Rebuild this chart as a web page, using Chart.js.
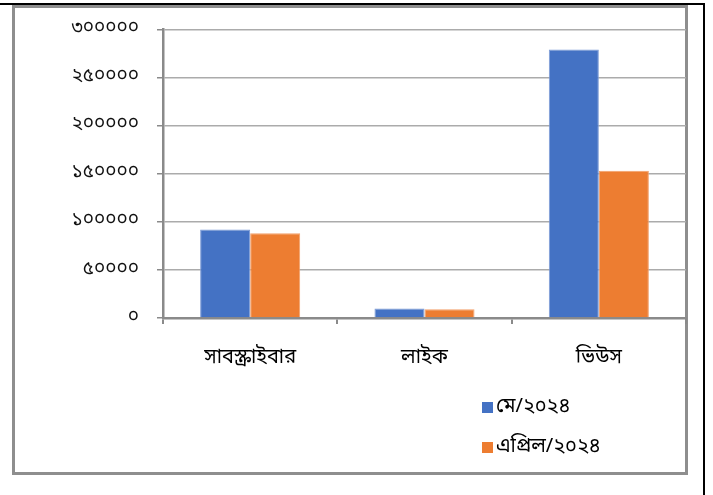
<!DOCTYPE html>
<html>
<head>
<meta charset="utf-8">
<script src="https://cdn.jsdelivr.net/npm/chart.js@4.4.1/dist/chart.umd.min.js"></script>
<style>
  html, body { margin: 0; padding: 0; background: #ffffff; width: 713px; height: 495px; overflow: hidden; }
  #outer { position: absolute; left: 0; top: 3px; width: 703px; height: 500px; border-top: 2px solid #000; border-right: 2px solid #000; }
  #box { position: absolute; left: 12px; top: 5px; width: 670px; height: 464px; border: 3px solid #8e8e8e; background: #fff; }
  #wrap { position: absolute; left: 0; top: 0; width: 713px; height: 495px; }
</style>
</head>
<body>
<div id="outer"></div>
<div id="box"></div>
<div id="wrap"><canvas id="c" width="713" height="495"></canvas></div>
<script>
const categories = ['সাবস্ক্রাইবার', 'লাইক', 'ভিউস'];
const seriesNames = ['মে/২০২৪', 'এপ্রিল/২০২৪'];
const mayValues = [92000, 10000, 279000];
const aprilValues = [88000, 9000, 153000];
const yTickValues = [0, 50000, 100000, 150000, 200000, 250000, 300000];
const yTickLabels = ['০', '৫০০০০', '১০০০০০', '১৫০০০০', '২০০০০০', '২৫০০০০', '৩০০০০০'];

const FONT = "'Noto Sans Bengali', 'Vrinda', 'Lohit Bengali', 'Noto Sans', sans-serif";

const legendPlugin = {
  id: 'stackedLegend',
  afterDraw(chart) {
    const ctx = chart.ctx;
    ctx.save();
    ctx.font = '20px ' + FONT;
    ctx.textBaseline = 'middle';
    ctx.textAlign = 'left';
    chart.data.datasets.forEach((ds, i) => {
      const y = 407 + i * 40;
      ctx.fillStyle = ds.backgroundColor;
      ctx.fillRect(482, y - 5, 11, 11);
      ctx.fillStyle = '#000000';
      ctx.fillText(ds.label, 496, y + 1);
    });
    ctx.restore();
  }
};

new Chart(document.getElementById('c'), {
  type: 'bar',
  data: {
    labels: categories,
    datasets: [
      { label: seriesNames[0], data: mayValues, backgroundColor: '#4472C4', borderColor: '#7c9bd6', borderWidth: 1 },
      { label: seriesNames[1], data: aprilValues, backgroundColor: '#ED7D31', borderColor: '#f2a06a', borderWidth: 1 }
    ]
  },
  options: {
    responsive: false,
    animation: false,
    devicePixelRatio: 1,
    layout: { padding: { left: 0, right: 27, top: 28, bottom: 0 } },
    plugins: {
      legend: { display: false },
      tooltip: { enabled: false }
    },
    datasets: { bar: { categoryPercentage: 0.574, barPercentage: 1.0 } },
    scales: {
      x: {
        grid: { display: true, drawOnChartArea: false, drawTicks: true, tickLength: 6, color: '#8a8a8a', lineWidth: 2 },
        border: { display: true, color: '#8a8a8a', width: 2.5 },
        ticks: { font: { family: FONT, size: 20 }, color: '#000000', padding: 23 },
        afterFit(s) { s.height = 177; }
      },
      y: {
        min: 0,
        max: 300000,
        afterBuildTicks(s) { s.ticks = yTickValues.map(v => ({ value: v })); },
        grid: { display: true, color: '#ababab', lineWidth: 1.5, drawTicks: true, tickLength: 6, tickColor: '#8a8a8a' },
        border: { display: true, color: '#8a8a8a', width: 2.5 },
        ticks: {
          font: { family: FONT, size: 19 },
          color: '#111111',
          padding: 18,
          callback(value, index) { return yTickLabels[yTickValues.indexOf(value)]; }
        },
        afterFit(s) { s.width = 163; }
      }
    }
  },
  plugins: [legendPlugin]
});
</script>
</body>
</html>
